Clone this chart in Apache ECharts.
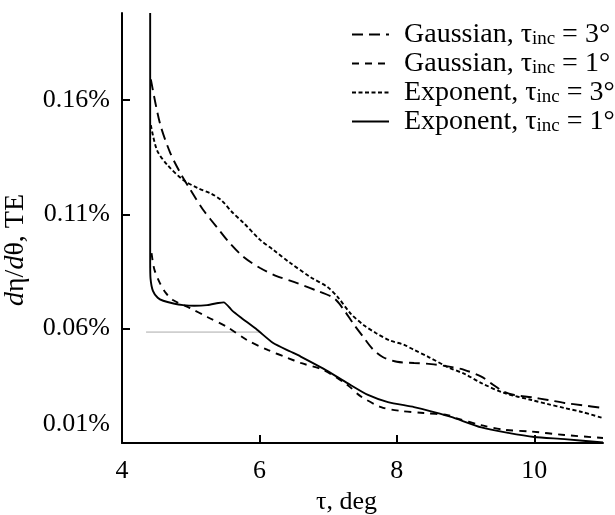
<!DOCTYPE html>
<html>
<head>
<meta charset="utf-8">
<script src="https://cdn.jsdelivr.net/npm/echarts@6/dist/echarts.min.js"></script>
<style>html,body{margin:0;padding:0;background:#fff}#c{width:615px;height:515px}</style>
</head>
<body>
<div id="c"></div>
<script>
// ---- data (y values in %) ----
var gauss3X = [4.42,4.55,4.70,4.85,4.99,5.18,5.39,5.55,5.77,6.01,6.25,6.50,6.80,7.08,7.21,7.37,7.52,7.65,7.80,8.00,8.25,8.50,8.74,8.98,9.23,9.40,9.55,9.71,9.96,10.20,10.44,10.70,11.00];
var gauss3Y = [0.169,0.150,0.137,0.128,0.121,0.112,0.104,0.098,0.0913,0.0865,0.083,0.0804,0.077,0.0734,0.069,0.062,0.056,0.051,0.0475,0.0455,0.045,0.0445,0.0435,0.042,0.039,0.0355,0.0325,0.031,0.030,0.0288,0.0275,0.0265,0.0253];

var gauss1X = [4.43,4.47,4.55,4.64,4.74,4.99,5.24,5.53,5.82,6.12,6.41,6.60,6.93,7.28,7.47,7.77,8.06,8.39,8.74,8.86,9.23,9.56,9.96,10.44,11.00];
var gauss1Y = [0.093,0.086,0.080,0.0755,0.0725,0.069,0.0651,0.0607,0.055,0.0507,0.0472,0.045,0.0419,0.0354,0.0305,0.0257,0.024,0.0231,0.0222,0.0209,0.0178,0.0158,0.015,0.0135,0.0122];

var exp3X = [4.42,4.51,4.66,4.89,5.10,5.30,5.45,5.60,5.77,6.01,6.20,6.45,6.74,6.99,7.14,7.33,7.52,7.70,7.90,8.10,8.25,8.45,8.74,9.00,9.23,9.56,9.96,10.20,10.44,10.70,11.00];
var exp3Y = [0.149,0.138,0.1316,0.125,0.1215,0.119,0.116,0.111,0.1062,0.0988,0.0945,0.0887,0.0826,0.0782,0.0738,0.0665,0.0615,0.058,0.0548,0.053,0.0507,0.0478,0.0432,0.040,0.0362,0.0319,0.0288,0.027,0.0253,0.0235,0.0209];

var exp1X = [4.41,4.41,4.41,4.415,4.45,4.52,4.60,4.75,4.89,5.05,5.24,5.40,5.48,5.60,5.72,5.97,6.20,6.45,6.60,6.93,7.28,7.58,7.87,8.25,8.54,8.79,9.23,9.62,10.00,10.44,11.00];
var exp1Y = [0.198,0.120,0.090,0.082,0.0765,0.0735,0.0722,0.071,0.0703,0.070,0.0703,0.0712,0.0715,0.068,0.0651,0.0594,0.0537,0.050,0.0478,0.0425,0.0362,0.031,0.0279,0.0257,0.0235,0.0214,0.0168,0.0144,0.0126,0.0117,0.0102];

var guideX = [4.35,6.0];
var guideY = [0.0585,0.0585];

var xTicks = [4,6,8,10];
var yTicks = [0.01,0.06,0.11,0.16];

var names = ['gauss3','gauss1','exp3','exp1'];
var legendText = {
  gauss3: '{f|Gaussian, τ}{s|inc}{n| = 3°}',
  gauss1: '{f|Gaussian, τ}{s|inc}{n| = 1°}',
  exp3: '{f|Exponent, τ}{s|inc}{n| = 3°}',
  exp1: '{f|Exponent, τ}{s|inc}{n| = 1°}'
};

function zip(a,b){ return a.map(function(v,i){ return [v,b[i]]; }); }

var FONT = "'Liberation Serif','DejaVu Serif',serif";
var chart = echarts.init(document.getElementById('c'), null, {renderer:'canvas'});

function lineSeries(name, xs, ys, type, smooth){
  return {
    name: name, type: 'line', data: zip(xs, ys), symbol: 'none', smooth: smooth,
    lineStyle: {color:'#000', width: 1.9, type: type},
    itemStyle: {color:'#000'},
    animation: false, z: 3
  };
}

chart.setOption({
  backgroundColor: '#fff',
  animation: false,
  textStyle: {fontFamily: FONT},
  grid: {left: 122, right: 12, top: 13, bottom: 72, containLabel: false, outerBoundsMode: 'none'},
  legend: {
    orient: 'vertical', left: 346, top: 15, itemWidth: 37, itemHeight: 14, itemGap: 0,
    data: names,
    itemStyle: {color: 'rgba(0,0,0,0)', borderWidth: 0, opacity: 0},
    formatter: function(n){ return legendText[n]; },
    textStyle: {
      fontFamily: FONT, fontSize: 28, color: '#000',
      rich: {
        f: {fontFamily: FONT, fontSize: 28, color:'#000', lineHeight: 28, padding: [0,0,0,10]},
        n: {fontFamily: FONT, fontSize: 28, color:'#000', lineHeight: 28},
        s: {fontFamily: FONT, fontSize: 19, color:'#000', lineHeight: 18, padding: [10,0,0,0]}
      }
    }
  },
  xAxis: {
    type: 'value', min: 4, max: 11,
    axisLine: {show: true, onZero: false, lineStyle: {color:'#000', width: 2}},
    axisTick: {show: true, inside: true, length: 8, lineStyle: {color:'#000', width: 2}, customValues: xTicks},
    axisLabel: {show: true, customValues: xTicks, fontFamily: FONT, fontSize: 26, color:'#000', margin: 15,
      formatter: function(v){ return String(v); }},
    splitLine: {show: false},
    name: 'τ, deg', nameLocation: 'middle', nameGap: 46,
    nameTextStyle: {fontFamily: FONT, fontSize: 26, color:'#000', padding: [0,32,0,0]}
  },
  yAxis: {
    type: 'value', min: 0.01, max: 0.198,
    axisLine: {show: true, onZero: false, lineStyle: {color:'#000', width: 2}},
    axisTick: {show: true, inside: true, length: 8, lineStyle: {color:'#000', width: 2}, customValues: yTicks},
    axisLabel: {show: true, customValues: yTicks, fontFamily: FONT, fontSize: 26, color:'#000', margin: 12,
      formatter: function(v){
        var s = v.toFixed(2) + '%';
        return Math.abs(v - 0.01) < 1e-6 ? '{low|' + s + '}' : s;
      },
      rich: {low: {fontFamily: FONT, fontSize: 26, color:'#000', padding: [0,0,38,0]}}
    },
    splitLine: {show: false},
    name: '{i|d}η/{i|d}θ, TE', nameLocation: 'middle', nameRotate: 90, nameGap: 92,
    nameTextStyle: {fontFamily: FONT, fontSize: 28, color:'#000', padding: [0,44,0,0],
      rich: {i: {fontFamily: FONT, fontSize: 28, fontStyle: 'italic', color:'#000'}}}
  },
  series: [
    {name: 'guide', type:'line', data: zip(guideX, guideY), symbol:'none',
     lineStyle:{color:'#aaa', width:1}, silent:true, animation:false, z:1},
    lineSeries('gauss3', gauss3X, gauss3Y, [11,6], 0.3),
    lineSeries('gauss1', gauss1X, gauss1Y, [7,6], 0.3),
    lineSeries('exp3', exp3X, exp3Y, [4,2.5], 0.3),
    lineSeries('exp1', exp1X, exp1Y, 'solid', 0.2)
  ]
});
</script>
</body>
</html>
